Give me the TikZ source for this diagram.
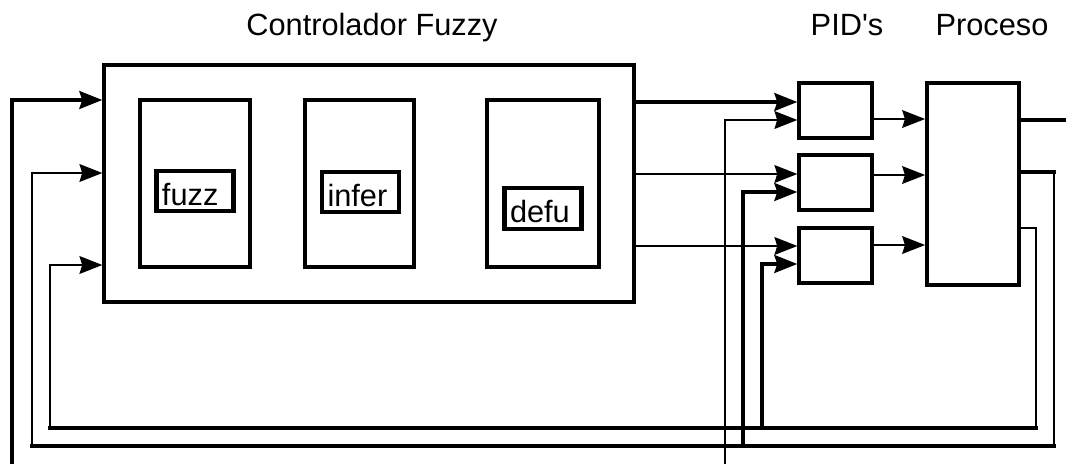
\documentclass[tikz,border=0pt]{standalone}
\usepackage{fontspec}
\setmainfont{Liberation Sans}
\usetikzlibrary{arrows.meta}

\begin{document}
\begin{tikzpicture}[font=\fontsize{17.5}{21}\selectfont,
  blk/.style={draw, line width=1.8pt, inner sep=0pt},
  sub/.style={draw, line width=2.5pt, inner sep=0pt},
  tag/.style={draw, line width=2.5pt, inner xsep=0.11cm, inner ysep=0pt, text width=1.32cm, align=left, text height=0.69cm, text depth=0.12cm},
  ttl/.style={anchor=base},
  arr/.style={-{Stealth[length=13pt, width=10pt, inset=1.5pt]}},
  thn/.style={line width=1.5pt, line cap=rect}, thk/.style={line width=2.3pt, line cap=rect}]
\useasboundingbox (0,0) rectangle (21.32,-9.26);
\node[ttl] (tfz) at (7.44,-0.70) {Controlador Fuzzy};
\node[ttl] (tpid) at (16.94,-0.70) {PID\textquotesingle s};
\node[ttl] (tproc) at (19.84,-0.70) {Proceso};
\node[blk, minimum width=10.6cm, minimum height=4.74cm] (fuzzy) at (7.38,-3.67) {};
\node[sub, minimum width=2.2cm, minimum height=3.34cm] (fz) at (3.9,-3.67) {};
\node[sub, minimum width=2.18cm, minimum height=3.34cm] (inf) at (7.19,-3.67) {};
\node[sub, minimum width=2.24cm, minimum height=3.34cm] (dfz) at (10.86,-3.67) {};
\node[tag] (lfz) at (3.9,-3.82) {fuzz};
\node[tag] (linf) at (7.21,-3.84) {infer};
\node[tag] (ldfz) at (10.86,-4.17) {defu};
\node[blk, minimum width=1.46cm, minimum height=1.1cm] (pid1) at (16.71,-2.21) {};
\node[blk, minimum width=1.46cm, minimum height=1.1cm] (pid2) at (16.71,-3.65) {};
\node[blk, minimum width=1.46cm, minimum height=1.1cm] (pid3) at (16.71,-5.11) {};
\node[blk, line width=2.1pt, minimum width=1.84cm, minimum height=4.04cm] (proc) at (19.46,-3.68) {};
\coordinate (ref1) at (0.24,-9.26);
\coordinate (ref2) at (14.5,-9.26);
\coordinate (out) at (21.32,-2.4);
\coordinate (cA) at (21.08,-3.44);
\coordinate (fbA) at (21.08,-8.92);
\coordinate (bA) at (0.64,-8.92);
\coordinate (cB) at (20.72,-4.56);
\coordinate (fbB) at (20.72,-8.56);
\coordinate (bB) at (1.0,-8.56);
\draw[thk, arr] (fuzzy.east |- 0,-2.04) -- (pid1.west |- 0,-2.04);
\draw[thn, arr] (fuzzy.east |- 0,-3.48) -- (pid2.west |- 0,-3.48);
\draw[thn, arr] (fuzzy.east |- 0,-4.92) -- (pid3.west |- 0,-4.92);
\draw[thn, arr] (pid1.east |- 0,-2.38) -- (proc.west |- 0,-2.38);
\draw[thn, arr] (pid2.east |- 0,-3.5) -- (proc.west |- 0,-3.5);
\draw[thn, arr] (pid3.east |- 0,-4.9) -- (proc.west |- 0,-4.9);
\draw[thk] (proc.east |- out) -- (out);
\draw[thk, arr] (ref1) |- (fuzzy.west |- 0,-2.0);
\draw[thk] (proc.east |- cA) -- (cA);
\draw[thn] (cA) -- (fbA);
\draw[thk] (fbA) -- (bA);
\draw[thn, arr] (bA) |- (fuzzy.west |- 0,-3.46);
\draw[thn] (proc.east |- cB) -- (cB) -- (fbB);
\draw[thk] (fbB) -- (bB);
\draw[thn, arr] (bB) |- (fuzzy.west |- 0,-5.3);
\draw[thk, arr] (fbA -| 14.86,0) |- (pid2.west |- 0,-3.84);
\draw[thk, arr] (fbB -| 15.24,0) |- (pid3.west |- 0,-5.28);
\draw[thn, arr] (ref2) |- (pid1.west |- 0,-2.4);
\end{tikzpicture}
\end{document}
